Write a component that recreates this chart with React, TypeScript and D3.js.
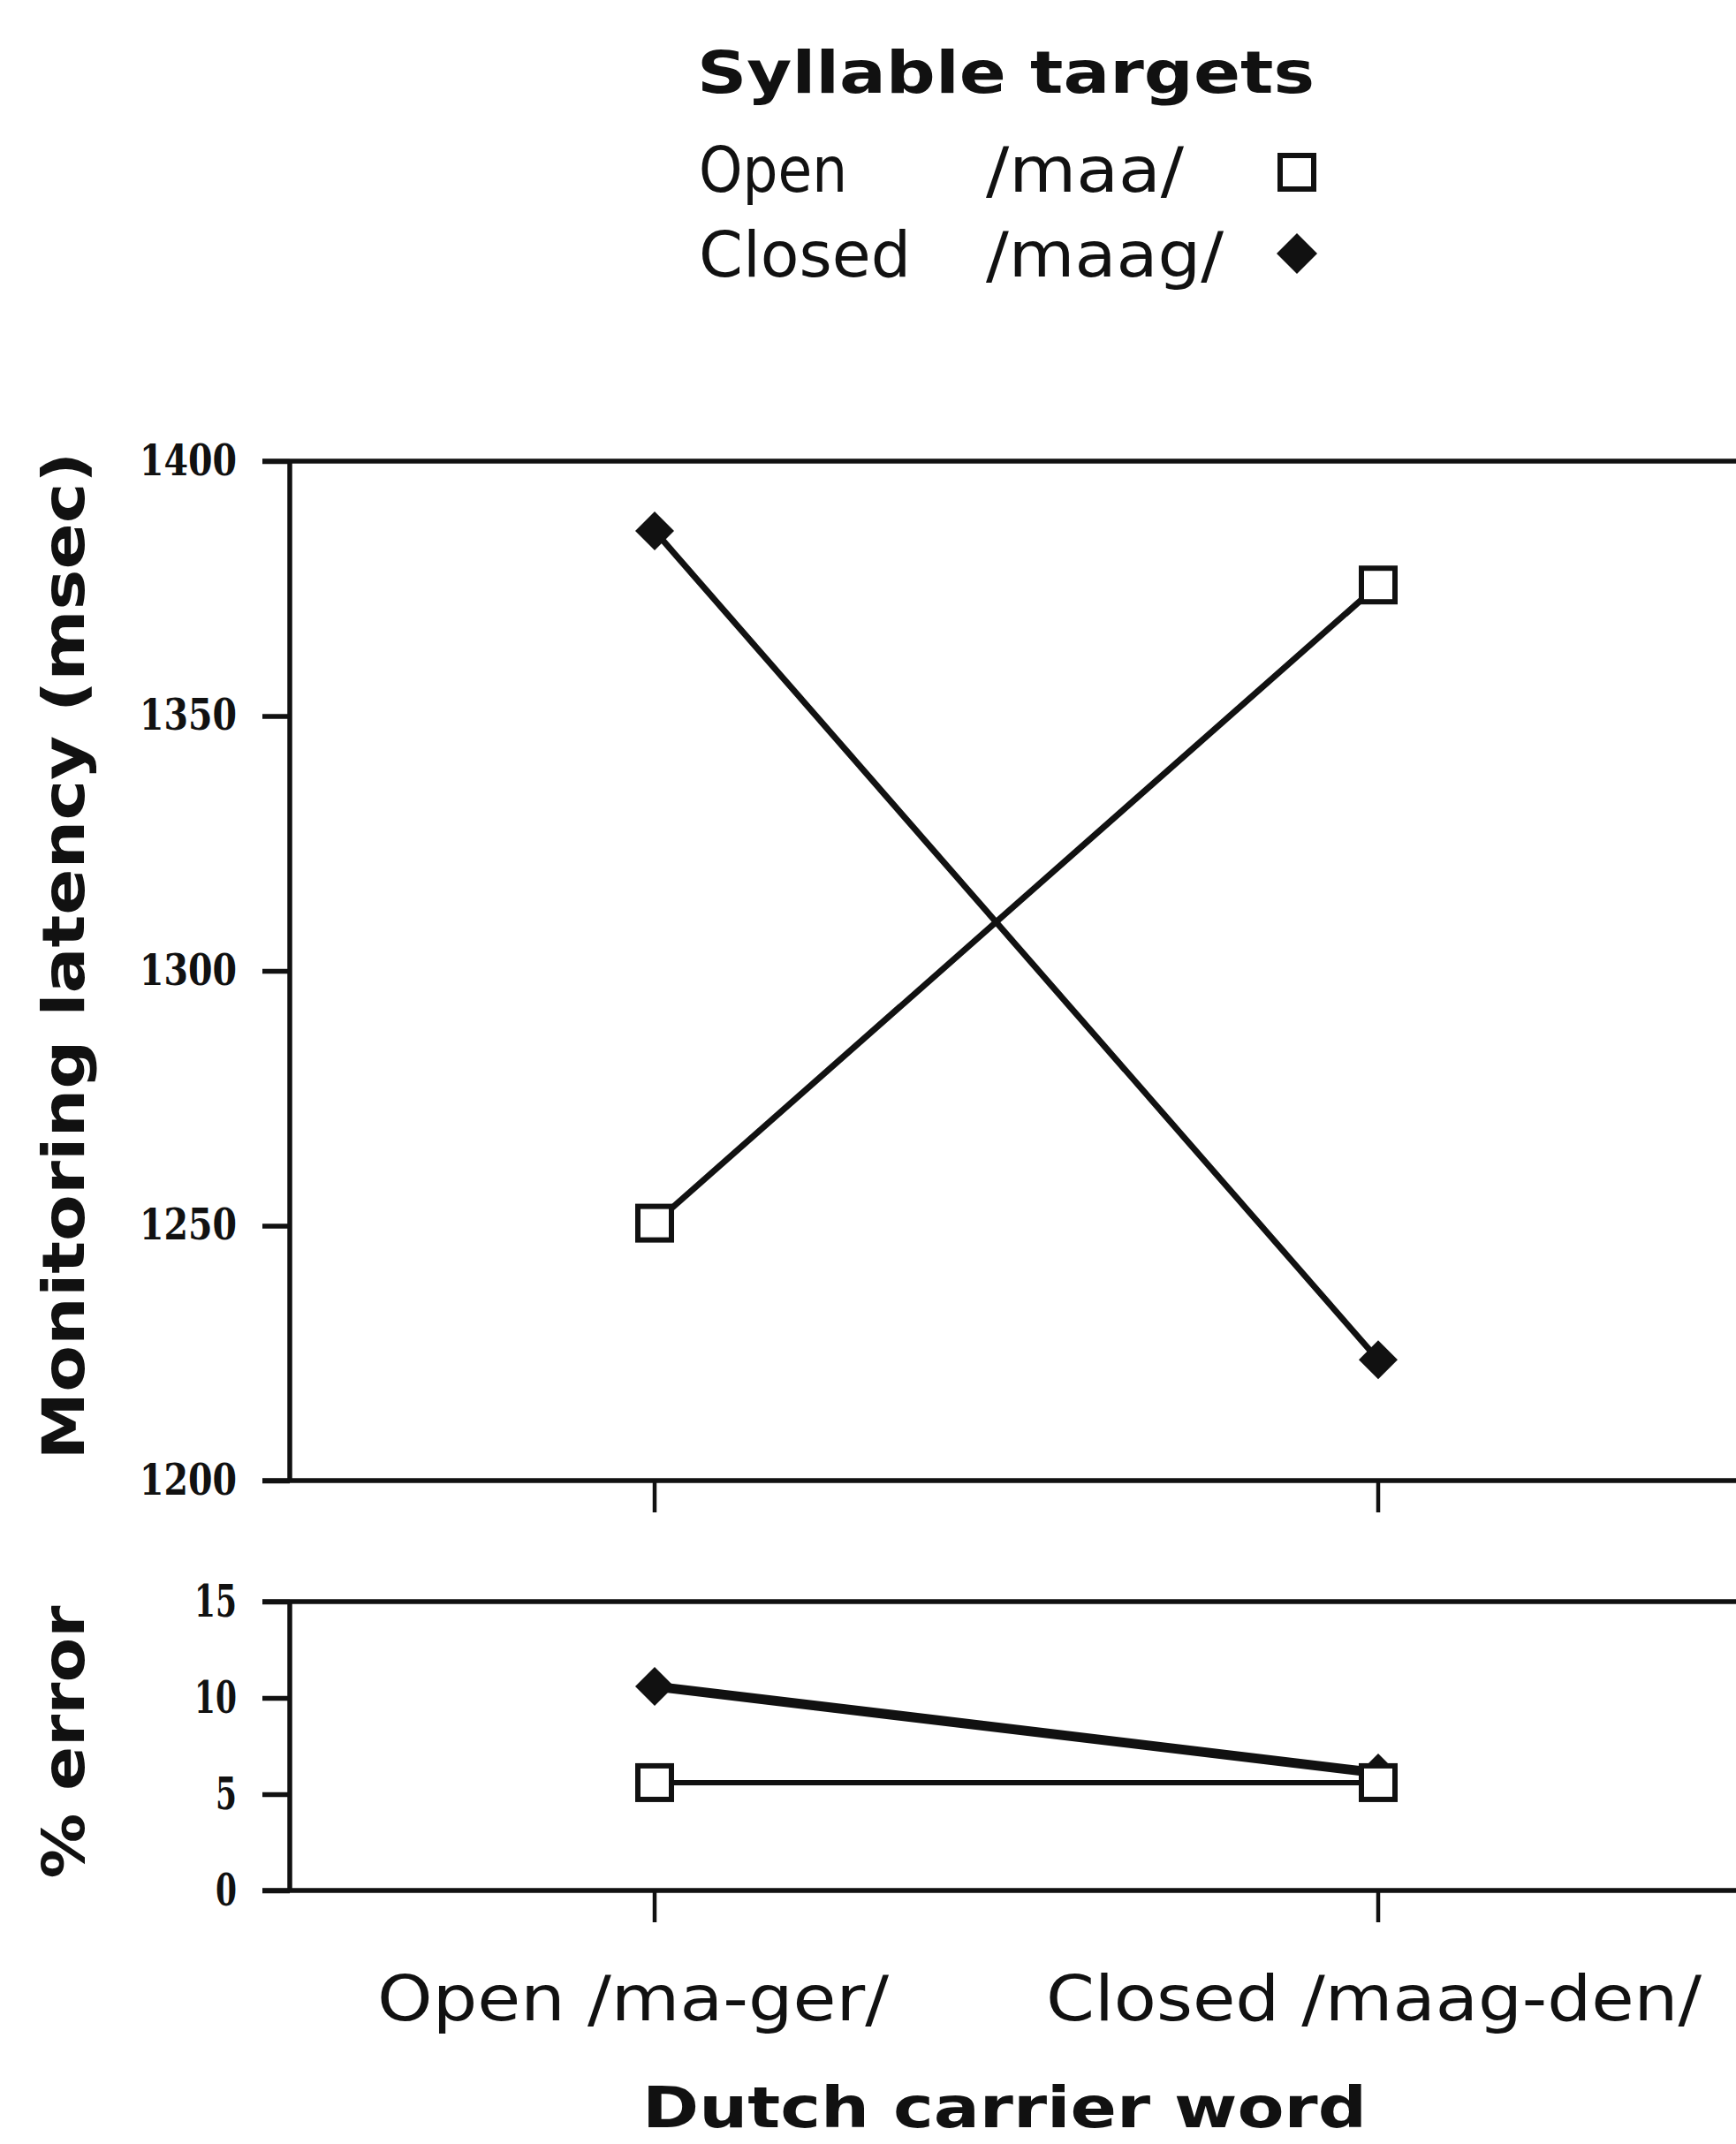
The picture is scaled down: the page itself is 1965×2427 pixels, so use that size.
import React, { useEffect, useRef } from 'react';
import * as d3 from 'd3';

// carrier words on the x axis
const carriers = ['Open /ma-ger/', 'Closed /maag-den/'];

// monitoring latency (msec)
const latencyOpenTarget = [1250.5, 1375.7];   // /maa/  (square)
const latencyClosedTarget = [1386.3, 1223.7]; // /maag/ (diamond)

// % error
const errorOpenTarget = [5.6, 5.6];
const errorClosedTarget = [10.6, 6.1];

const latencyTicks = [1200, 1250, 1300, 1350, 1400];
const errorTicks = [0, 5, 10, 15];

const W = 1965;
const H = 2427;
const textFont = '"DejaVu Sans", sans-serif';
const numFont = '"DejaVu Serif", serif';

export default function App() {
  const svgRef = useRef<SVGSVGElement>(null);

  useEffect(() => {
    if (!svgRef.current) return;
    const svg = d3.select(svgRef.current);
    svg.selectAll('*').remove();

    const axisX = 328;
    const tickLeft = 297;

    const x = d3.scalePoint<string>().domain(carriers).range([741, 1560]).padding(0);
    const yTop = d3.scaleLinear().domain([1200, 1400]).range([1676, 522]);
    const yLow = d3.scaleLinear().domain([0, 15]).range([2140, 1813]);

    const sq = (g: any, cx: number, cy: number, s: number) =>
      g.append('rect').attr('x', cx - s / 2).attr('y', cy - s / 2).attr('width', s).attr('height', s)
        .attr('fill', 'white').attr('stroke', '#111').attr('stroke-width', 6);
    const dia = (g: any, cx: number, cy: number, s: number) =>
      g.append('path')
        .attr('d', `M${cx},${cy - s / 2}L${cx + s / 2},${cy}L${cx},${cy + s / 2}L${cx - s / 2},${cy}Z`)
        .attr('fill', '#111');

    // ---- legend
    svg.append('text').attr('x', 789).attr('y', 105).attr('font-family', textFont).attr('font-weight', 'bold')
      .attr('font-size', 66).attr('textLength', 699).attr('lengthAdjust', 'spacingAndGlyphs').attr('fill', '#111')
      .text('Syllable targets');
    const legendRows = [
      { a: 'Open', aw: 168, b: '/maa/', bw: 224, y: 217, sym: 'sq', sy: 195 },
      { a: 'Closed', aw: 240, b: '/maag/', bw: 269, y: 313, sym: 'dia', sy: 287 },
    ];
    legendRows.forEach(r => {
      svg.append('text').attr('x', 791).attr('y', r.y).attr('font-family', textFont).attr('font-size', 72)
        .attr('textLength', r.aw).attr('lengthAdjust', 'spacingAndGlyphs').attr('fill', '#111').text(r.a);
      svg.append('text').attr('x', 1116).attr('y', r.y).attr('font-family', textFont).attr('font-size', 72)
        .attr('textLength', r.bw).attr('lengthAdjust', 'spacingAndGlyphs').attr('fill', '#111').text(r.b);
      if (r.sym === 'sq') sq(svg, 1468, r.sy, 38);
      else dia(svg, 1468, r.sy, 46);
    });

    // ---- frames
    const frame = (y: any, lo: number, hi: number) => {
      svg.append('line').attr('x1', tickLeft).attr('x2', W).attr('y1', y(hi)).attr('y2', y(hi))
        .attr('stroke', '#111').attr('stroke-width', 5.5);
      svg.append('line').attr('x1', tickLeft).attr('x2', W).attr('y1', y(lo)).attr('y2', y(lo))
        .attr('stroke', '#111').attr('stroke-width', 5.5);
      svg.append('line').attr('x1', axisX).attr('x2', axisX).attr('y1', y(hi)).attr('y2', y(lo))
        .attr('stroke', '#111').attr('stroke-width', 5.5);
      // x ticks below
      carriers.forEach(c => {
        svg.append('line').attr('x1', x(c)).attr('x2', x(c)).attr('y1', y(lo)).attr('y2', y(lo) + 36)
          .attr('stroke', '#111').attr('stroke-width', 4.5);
      });
    };
    frame(yTop, 1200, 1400);
    frame(yLow, 0, 15);

    // ---- y axes
    const gTop = svg.append('g').attr('transform', `translate(${axisX},0)`)
      .call(d3.axisLeft(yTop).tickValues(latencyTicks).tickSize(31).tickPadding(29).tickFormat(d3.format('d')));
    const gLow = svg.append('g').attr('transform', `translate(${axisX},0)`)
      .call(d3.axisLeft(yLow).tickValues(errorTicks).tickSize(31).tickPadding(29).tickFormat(d3.format('d')));
    [gTop, gLow].forEach((g, i) => {
      g.select('.domain').remove();
      g.selectAll('.tick line').attr('stroke', '#111').attr('stroke-width', 5.5);
      g.selectAll('.tick text').attr('font-family', numFont).attr('font-weight', 'bold')
        .attr('font-size', i === 0 ? 48 : 51).attr('fill', '#111')
        .attr('textLength', (d: any) => (i === 0 ? 110 : String(d).length * 24))
        .attr('lengthAdjust', 'spacingAndGlyphs');
    });

    // ---- data lines
    const lineTop = d3.line<number>().x((_, i) => x(carriers[i])!).y(d => yTop(d));
    const lineLow = d3.line<number>().x((_, i) => x(carriers[i])!).y(d => yLow(d));
    svg.append('path').attr('d', lineTop(latencyClosedTarget)).attr('fill', 'none').attr('stroke', '#111').attr('stroke-width', 7);
    svg.append('path').attr('d', lineTop(latencyOpenTarget)).attr('fill', 'none').attr('stroke', '#111').attr('stroke-width', 7);
    svg.append('path').attr('d', lineLow(errorClosedTarget)).attr('fill', 'none').attr('stroke', '#111').attr('stroke-width', 11);
    svg.append('path').attr('d', lineLow(errorOpenTarget)).attr('fill', 'none').attr('stroke', '#111').attr('stroke-width', 6);

    latencyClosedTarget.forEach((v, i) => dia(svg, x(carriers[i])!, yTop(v), 44));
    latencyOpenTarget.forEach((v, i) => sq(svg, x(carriers[i])!, yTop(v), 38));
    errorClosedTarget.forEach((v, i) => dia(svg, x(carriers[i])!, yLow(v), 44));
    errorOpenTarget.forEach((v, i) => sq(svg, x(carriers[i])!, yLow(v), 38));

    // ---- axis titles
    svg.append('text').attr('transform', `translate(95,${1082}) rotate(-90)`).attr('text-anchor', 'middle')
      .attr('font-family', textFont).attr('font-weight', 'bold').attr('font-size', 66)
      .attr('textLength', 1141).attr('lengthAdjust', 'spacingAndGlyphs').attr('fill', '#111')
      .text('Monitoring latency (msec)');
    svg.append('text').attr('transform', `translate(95,${1972}) rotate(-90)`).attr('text-anchor', 'middle')
      .attr('font-family', textFont).attr('font-weight', 'bold').attr('font-size', 66)
      .attr('textLength', 309).attr('lengthAdjust', 'spacingAndGlyphs').attr('fill', '#111')
      .text('% error');

    const catLabels = [
      { x: 427, w: 579 },
      { x: 1184, w: 742 },
    ];
    carriers.forEach((c, i) => {
      svg.append('text').attr('x', catLabels[i].x).attr('y', 2287).attr('font-family', textFont).attr('font-size', 72)
        .attr('textLength', catLabels[i].w).attr('lengthAdjust', 'spacingAndGlyphs').attr('fill', '#111')
        .text(c);
    });
    svg.append('text').attr('x', 727).attr('y', 2408).attr('font-family', textFont).attr('font-weight', 'bold')
      .attr('font-size', 64).attr('textLength', 820).attr('lengthAdjust', 'spacingAndGlyphs').attr('fill', '#111')
      .text('Dutch carrier word');
  }, []);

  return (
    <svg ref={svgRef} width={W} height={H} viewBox={`0 0 ${W} ${H}`}
      style={{ position: 'absolute', left: 0, top: 0, background: 'white' }} />
  );
}
